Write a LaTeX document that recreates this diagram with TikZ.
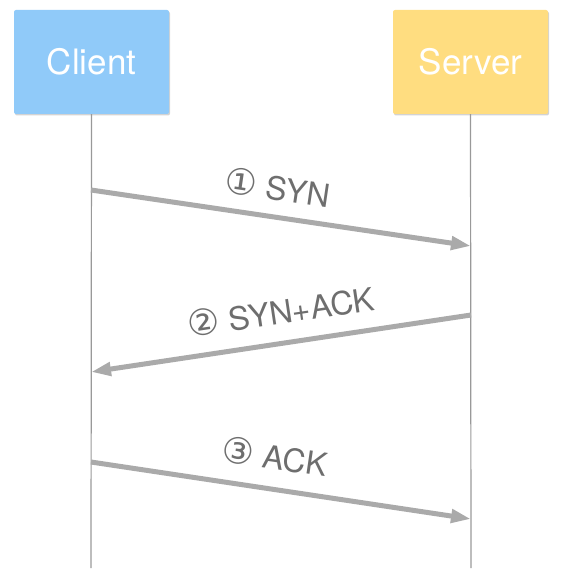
\documentclass[tikz,border=0pt]{standalone}
\usepackage{fontspec}
\setmainfont{TeX Gyre Heros}
\newfontfamily\symfont{DejaVu Sans}
\usetikzlibrary{arrows.meta,shadows}
\definecolor{clientblue}{HTML}{90CAF9}
\definecolor{serveryellow}{HTML}{FFDD80}
\definecolor{lifegray}{HTML}{999999}
\definecolor{arrowgray}{HTML}{AAAAAA}
\definecolor{labelgray}{HTML}{6E6E6E}
\newcommand{\circnum}[1]{{\symfont\fontsize{36}{40}\selectfont #1}}
\begin{document}
\begin{tikzpicture}[x=1pt,y=-1pt,
  party/.style={minimum width=155pt,minimum height=104pt,rounded corners=2pt,
    text=white,font=\fontsize{35}{40}\selectfont,inner sep=0pt,
    drop shadow={shadow xshift=1pt,shadow yshift=-1.5pt,opacity=0.35}},
  lifeline/.style={draw=lifegray,line width=1.2pt},
  msg/.style={draw=arrowgray,line width=5pt,-{Triangle[length=20pt,width=13pt]}},
  msglabel/.style={text=labelgray,font=\fontsize{32}{36}\selectfont,inner sep=0pt}]
\useasboundingbox (0,0) rectangle (565,580);
\node[party,fill=clientblue] (client) at (91.5,62) {Client};
\node[party,fill=serveryellow] (server) at (470.5,62) {Server};
\coordinate (cend) at (91,568);
\coordinate (send) at (471,568);
\draw[lifeline] (client.south) -- (cend);
\draw[lifeline] (server.south) -- (send);
\coordinate (c1) at (91,190);
\coordinate (s1) at (471,246);
\coordinate (s2) at (471,315);
\coordinate (c2) at (91,372);
\coordinate (c3) at (91,462);
\coordinate (s3) at (471,519);
\draw[msg] (c1) -- (s1);
\draw[msg] (s2) -- (c2);
\draw[msg] (c3) -- (s3);
\node[msglabel,rotate=-8.4] (l1) at (278,187) {\circnum{①} SYN};
\node[msglabel,rotate=8.5] (l2) at (281,311) {\circnum{②} SYN+ACK};
\node[msglabel,rotate=-8.4] (l3) at (275,456) {\circnum{③} ACK};
\end{tikzpicture}
\end{document}
